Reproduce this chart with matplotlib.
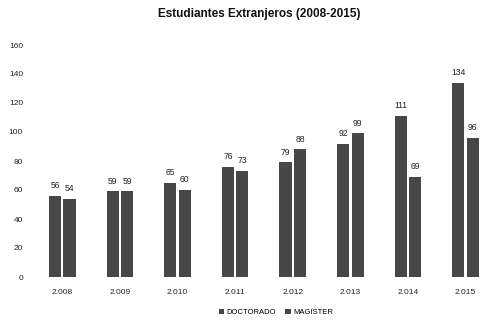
import matplotlib
matplotlib.use("Agg")
import matplotlib.pyplot as plt
import numpy as np

years = ["2.008", "2.009", "2.010", "2.011", "2.012", "2.013", "2.014", "2.015"]
doctorado = [56, 59, 65, 76, 79, 92, 111, 134]
magister = [54, 59, 60, 73, 88, 99, 69, 96]

plt.rcParams['font.family'] = ['Liberation Sans', 'DejaVu Sans']

fig = plt.figure(figsize=(4.8, 3.24), dpi=100)
ax = fig.add_axes([30/480, 47/324, 450/480, 232/324])

x = np.arange(len(years))
w = 0.21
off = 0.125
bar_color = "#474747"
b1 = ax.bar(x - off, doctorado, w, color=bar_color, label="DOCTORADO")
b2 = ax.bar(x + off, magister, w, color=bar_color, label="MAGISTER")

for bars, vals in ((b1, doctorado), (b2, magister)):
    for rect, v in zip(bars, vals):
        ax.text(rect.get_x() + rect.get_width() / 2, v + 4, str(v),
                ha="center", va="bottom", fontsize=6.2, color="#222222")

ax.set_xlim(-0.56, 7.25)
ax.set_ylim(0, 160)
ax.set_yticks(range(0, 161, 20))
ax.set_xticks(x)
ax.set_xticklabels(years)
ax.tick_params(axis="both", length=0, labelsize=6, colors="#222222")
ax.tick_params(axis="x", pad=9)
ax.tick_params(axis="y", pad=5)
for s in ax.spines.values():
    s.set_visible(False)

fig.suptitle("Estudiantes Extranjeros (2008-2015)", x=0.54, y=0.975,
             fontsize=8.5, fontweight="bold", color="#111111")

fig.legend(handles=[b1, b2], loc="center", bbox_to_anchor=(0.575, 0.036),
           ncol=2, frameon=False, fontsize=5.5, handlelength=0.7,
           handleheight=0.7, columnspacing=1.2, handletextpad=0.3)

fig.savefig("out.png", dpi=100)
